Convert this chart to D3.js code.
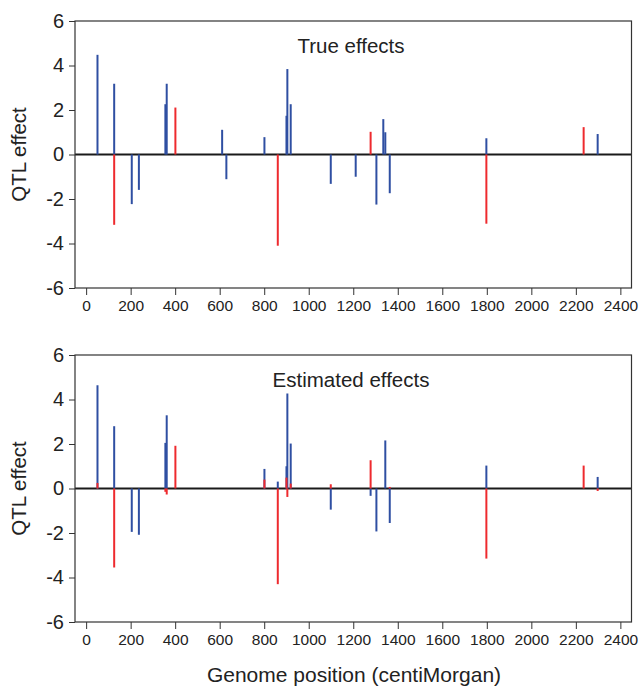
<!DOCTYPE html>
<html>
    <head>
        <meta charset="utf-8">
        <script src="https://cdnjs.cloudflare.com/ajax/libs/d3/7.8.5/d3.min.js"></script>
        <title>QTL effects</title>
        <style>
            html, body {
                margin: 0;
                background: #fff;
            }
            svg {
                display: block;
                font-family: "Liberation Sans", Arial, sans-serif;
            }
            .frame {
                fill: none;
                stroke: #333;
                stroke-width: 1.2;
            }
            .zero {
                stroke: #1a1a1a;
                stroke-width: 2;
            }
        </style>
    </head>
    <body>
        <svg width="640" height="686" id="chart"></svg>

        <script>
            // QTL positions (cM)
            var loci = [51, 126, 205, 237, 356, 362, 401, 611, 630, 801, 861, 900,
                        904, 919, 1099, 1211, 1278, 1304, 1335, 1344, 1364, 1798, 2235, 2298];

            // true effects: blue = additive, red = dominance
            var trueAdd = [4.48, 3.18, -2.23, -1.59, 2.26, 3.18, 0, 1.11, -1.11, 0.78, 0, 1.74,
                           3.84, 2.26, -1.32, -1.0, 0, -2.25, 1.59, 1.0, -1.74, 0.73, 0, 0.92];
            var trueDom = [0, -3.16, 0, 0, 0, 0, 2.11, 0, 0, 0, -4.1, 0,
                           0, 0, 0, 0, 1.02, 0, 0, 0, 0, -3.11, 1.23, 0];

            // estimated effects
            var estAdd = [4.64, 2.8, -1.95, -2.08, 2.05, 3.29, 0, 0, 0, 0.88, 0.31, 1.0,
                          4.27, 2.02, -0.95, 0, -0.33, -1.93, 0, 2.16, -1.55, 1.03, 0, 0.52];
            var estDom = [0.25, -3.55, 0, 0, -0.15, -0.27, 1.92, 0, 0, 0.4, -4.3, 0.49,
                          -0.38, 0.22, 0.19, 0, 1.27, 0, 0, 0, 0.07, -3.15, 1.03, -0.11];

            var xTicks = [0, 200, 400, 600, 800, 1000, 1200, 1400, 1600, 1800, 2000, 2200, 2400];
            var yTicks = [-6, -4, -2, 0, 2, 4, 6];

            var blue = "#2f4fa2", red = "#ee2a2e";

            var svg = d3.select("#chart");

            var x = d3.scaleLinear().domain([-50, 2450]).range([75, 631.5]);

            // plain labels: hyphen minus, no thousands separator
            function plain(d) { return String(d); }

            function panel(top, title, add, dom) {
                var y = d3.scaleLinear().domain([-6, 6]).range([top + 267, top]);
                var g = svg.append("g");

                g.append("line")
                    .attr("class", "zero")
                    .attr("x1", x.range()[0]).attr("x2", x.range()[1])
                    .attr("y1", y(0)).attr("y2", y(0));

                function bars(vals, color) {
                    g.selectAll(null)
                        .data(vals.map(function(v, i) { return {pos: loci[i], v: v}; })
                                  .filter(function(d) { return d.v !== 0; }))
                        .enter()
                        .append("line")
                        .attr("x1", function(d) { return x(d.pos); })
                        .attr("x2", function(d) { return x(d.pos); })
                        .attr("y1", y(0))
                        .attr("y2", function(d) { return y(d.v); })
                        .attr("stroke", color)
                        .attr("stroke-width", 2);
                }
                bars(add, blue);
                bars(dom, red);

                g.append("rect")
                    .attr("class", "frame")
                    .attr("x", x.range()[0]).attr("y", top)
                    .attr("width", x.range()[1] - x.range()[0])
                    .attr("height", 267);

                var xAxis = g.append("g")
                    .attr("transform", "translate(0," + (top + 267) + ")")
                    .call(d3.axisBottom(x).tickValues(xTicks).tickFormat(plain)
                        .tickSize(7).tickPadding(5));
                xAxis.select(".domain").remove();
                xAxis.selectAll("text").attr("font-size", 15.5).attr("fill", "#222")
                    .attr("font-family", "Liberation Sans, Arial, sans-serif");
                xAxis.selectAll("line").attr("stroke", "#333");

                var yAxis = g.append("g")
                    .attr("transform", "translate(" + x.range()[0] + ",0)")
                    .call(d3.axisLeft(y).tickValues(yTicks).tickFormat(plain)
                        .tickSize(6).tickPadding(5));
                yAxis.select(".domain").remove();
                yAxis.selectAll("text").attr("font-size", 20).attr("fill", "#222")
                    .attr("font-family", "Liberation Sans, Arial, sans-serif");
                yAxis.selectAll("line").attr("stroke", "#333");

                g.append("text")
                    .attr("x", 351).attr("y", top + 32)
                    .attr("text-anchor", "middle")
                    .attr("font-size", 20.5).attr("fill", "#222")
                    .text(title);

                g.append("text")
                    .attr("transform", "translate(26," + y(0) + ") rotate(-90)")
                    .attr("text-anchor", "middle")
                    .attr("font-size", 20.5).attr("fill", "#222")
                    .text("QTL effect");
            }

            panel(21, "True effects", trueAdd, trueDom);
            panel(355, "Estimated effects", estAdd, estDom);

            svg.append("text")
                .attr("x", 354).attr("y", 682)
                .attr("text-anchor", "middle")
                .attr("font-size", 21).attr("fill", "#222")
                .text("Genome position (centiMorgan)");
        </script>
    </body>
</html>
